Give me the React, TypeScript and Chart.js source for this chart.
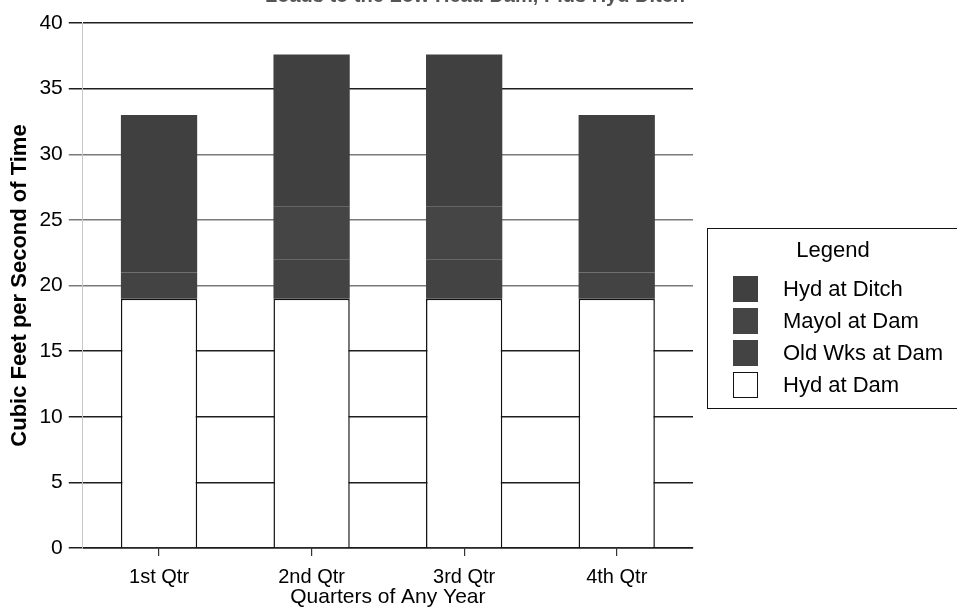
import React, { useEffect, useRef } from "react";
import { Chart, registerables } from "chart.js";

Chart.register(...registerables);

const FONT = "'Liberation Sans', Arial, Helvetica, sans-serif";

const chartTitle = "Loads to the Low Head Dam, Plus Hyd Ditch";
const categories = ["1st Qtr", "2nd Qtr", "3rd Qtr", "4th Qtr"];
const hydAtDam = [19, 19, 19, 19];
const oldWksAtDam = [2, 3, 3, 2];
const mayolAtDam = [0, 4, 4, 0];
const hydAtDitch = [12, 11.6, 11.6, 12];
const yMin = 0;
const yMax = 40;
const yStep = 5;
const xAxisTitle = "Quarters of Any Year";
const yAxisTitle = "Cubic Feet per Second of Time";
const legendTitle = "Legend";

const seriesLabels = ["Hyd at Dam", "Old Wks at Dam", "Mayol at Dam", "Hyd at Ditch"];
const seriesData = [hydAtDam, oldWksAtDam, mayolAtDam, hydAtDitch];
const seriesFill = ["#ffffff", "#434343", "#454545", "#404040"];
const seriesBorder = ["#111111", "#3a3a3a", "#3a3a3a", "#3a3a3a"];

export default function App() {
  const canvasRef = useRef<HTMLCanvasElement | null>(null);

  useEffect(() => {
    if (!canvasRef.current) return;
    const chart = new Chart(canvasRef.current, {
      type: "bar",
      data: {
        labels: categories,
        datasets: seriesLabels.map((label, i) => ({
          label,
          data: seriesData[i],
          backgroundColor: seriesFill[i],
          borderColor: seriesBorder[i],
          borderWidth: i === 0 ? 1.5 : 0,
          borderSkipped: "bottom" as const,
          barPercentage: 0.5,
          categoryPercentage: 1.0,
        })),
      },
      options: {
        animation: false,
        responsive: false,
        maintainAspectRatio: false,
        layout: { padding: { top: 23, right: 264, bottom: 0, left: 5 } },
        plugins: {
          legend: { display: false },
          title: { display: false },
          tooltip: { enabled: false },
        },
        scales: {
          x: {
            stacked: true,
            grid: {
              display: true,
              drawOnChartArea: false,
              offset: false,
              tickLength: 8,
              color: "#333",
              lineWidth: 1.2,
            },
            border: { display: true, color: "#1a1a1a", width: 1.6 },
            ticks: {
              color: "#000",
              font: { family: FONT, size: 20, lineHeight: 1 },
              padding: 11,
            },
            title: {
              display: true,
              text: xAxisTitle,
              color: "#000",
              font: { family: FONT, size: 21, lineHeight: 1 },
              padding: { top: -11, bottom: 4 },
            },
          },
          y: {
            stacked: true,
            min: yMin,
            max: yMax,
            ticks: {
              stepSize: yStep,
              color: "#000",
              font: { family: FONT, size: 21 },
              padding: 6,
            },
            grid: {
              tickLength: 14,
              lineWidth: 1.5,
              color: (ctx: any) => {
                const v = ctx.tick ? ctx.tick.value : 0;
                return v >= 20 && v <= 30 ? "#7a7a7a" : "#1e1e1e";
              },
            },
            border: { display: true, color: "#c8c8c8", width: 1 },
            title: {
              display: true,
              text: yAxisTitle,
              color: "#000",
              font: { family: FONT, size: 22, weight: "bold", lineHeight: 1.2 },
              padding: { top: 2, bottom: 0 },
            },
          },
        },
      },
    });
    return () => chart.destroy();
  }, []);

  const legendOrder = [3, 2, 1, 0];

  return (
    <div
      style={{
        position: "absolute",
        left: 0,
        top: 0,
        width: 957,
        height: 612,
        overflow: "hidden",
        background: "#fff",
        fontFamily: FONT,
      }}
    >
      <canvas ref={canvasRef} width={957} height={612} style={{ display: "block" }} />
      <div
        style={{
          position: "absolute",
          left: 0,
          top: -15,
          width: 950,
          textAlign: "center",
          fontWeight: "bold",
          fontSize: 20,
          lineHeight: "20px",
          color: "#555",
          whiteSpace: "nowrap",
        }}
      >
        {chartTitle}
      </div>
      <div
        style={{
          position: "absolute",
          left: 707,
          top: 228,
          width: 260,
          height: 181,
          border: "1px solid #111",
          boxSizing: "border-box",
          color: "#000",
        }}
      >
        <div
          style={{
            position: "absolute",
            left: 0,
            top: 9,
            width: 250,
            textAlign: "center",
            fontSize: 22,
            lineHeight: "24px",
          }}
        >
          {legendTitle}
        </div>
        {legendOrder.map((idx, row) => (
          <div
            key={idx}
            style={{
              position: "absolute",
              left: 25,
              top: 47 + row * 32,
              height: 26,
              display: "flex",
              alignItems: "center",
              whiteSpace: "nowrap",
            }}
          >
            <div
              style={{
                width: 25,
                height: 26,
                boxSizing: "border-box",
                background: seriesFill[idx],
                border: idx === 0 ? "1.5px solid #111" : "1px solid " + seriesFill[idx],
                marginRight: 25,
              }}
            />
            <span style={{ fontSize: 22, lineHeight: "26px" }}>{seriesLabels[idx]}</span>
          </div>
        ))}
      </div>
    </div>
  );
}
